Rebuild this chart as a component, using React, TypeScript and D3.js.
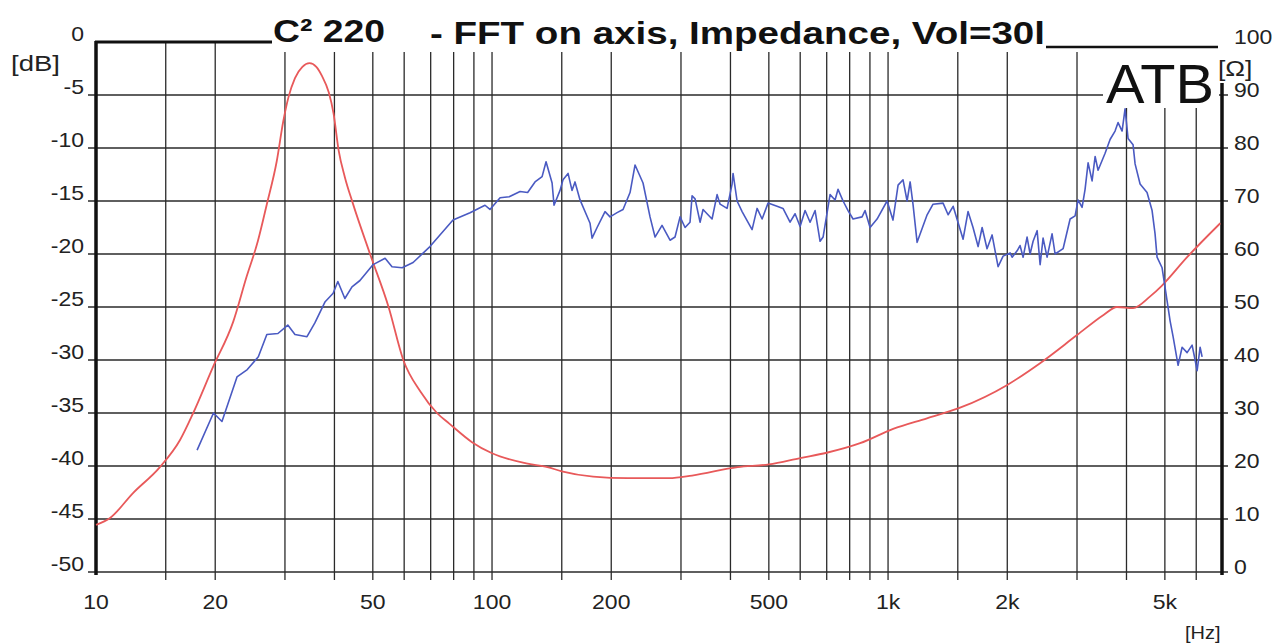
import React from "react";
import * as d3 from "d3";

const W = 1282;
const H = 644;

// Grid frequencies (Hz) for vertical lines
const gridFreqs = [10, 15, 20, 30, 40, 50, 60, 70, 80, 90, 100, 150, 200, 300, 400, 500, 600, 700, 800, 900, 1000, 1500, 2000, 3000, 4000, 5000, 6000];
// Bottom tick labels
const freqTicks = [10, 20, 50, 100, 200, 500, 1000, 2000, 5000];
const freqTickLabels = ["10", "20", "50", "100", "200", "500", "1k", "2k", "5k"];
// Left axis (dB)
const dbTicks = [0, -5, -10, -15, -20, -25, -30, -35, -40, -45, -50];
// Right axis (Ohm)
const ohmTicks = [100, 90, 80, 70, 60, 50, 40, 30, 20, 10, 0];

// Impedance curve [Hz, Ohm]
const impedance: [number, number][] = [
  [10, 8.9], [10.85, 10.2], [12.4, 14.9], [14.5, 19.8], [16.3, 24.9], [17.6, 30], [19.75, 38.7], [22.2, 47.2],
  [24.0, 55.7], [25.6, 62.3], [27.0, 69.4], [28.6, 77.5], [29.7, 85], [30.6, 89.5], [31.8, 93.2], [33.2, 95.3],
  [34.6, 96], [36, 95.3], [37.2, 93.6], [38.7, 90.5], [39.8, 86.5], [41.0, 79.5], [42.5, 74.5], [44.5, 69.6],
  [49.2, 60], [54.8, 50], [59.7, 40], [66, 34], [72.6, 30], [78, 28], [89, 24.5], [100, 22.4], [122, 20.5],
  [138, 19.8], [150, 19], [180, 18], [220, 17.7], [280, 17.7], [320, 18.2], [417, 19.8], [500, 20.3],
  [600, 21.5], [700, 22.5], [850, 24.3], [1030, 27], [1254, 29], [1520, 31], [2000, 35.3], [2420, 39.4],
  [3000, 44.7], [3500, 48.5], [3785, 50], [4155, 49.8], [4590, 52], [4910, 54], [5690, 59.4], [6900, 65.8],
];

// SPL curve [Hz, dB]
const spl: [number, number][] = [
  [18.0, -38.5], [19.8, -35.0], [20.8, -35.8], [22.7, -31.6], [24.1, -30.9], [25.7, -29.7], [27.0, -27.6],
  [28.8, -27.5], [30.5, -26.7], [31.8, -27.6], [34.1, -27.8], [35.7, -26.5], [37.9, -24.5], [39.7, -23.7],
  [40.8, -22.6], [42.5, -24.2], [44.3, -23.1], [46.4, -22.5], [50.1, -21.0], [53.7, -20.4], [55.9, -21.2],
  [59.3, -21.3], [63.2, -20.8], [69.7, -19.3], [79.7, -16.8], [88.0, -16.1], [96.0, -15.4], [98.8, -15.8],
  [104.8, -14.7], [110.5, -14.6], [117.7, -14.1], [123.0, -14.2], [128.4, -13.2], [133.8, -12.7], [136.9, -11.3], [141.8, -13.3], [143.4, -15.4],
  [148.5, -14.0], [151.1, -13.0], [155.6, -12.4], [159.2, -14.0], [162.0, -13.2], [166.8, -14.9], [176.8, -17.1],
  [178.9, -18.5], [184.2, -17.5], [192.9, -16.0], [198.6, -16.5], [206.9, -16.1], [214.2, -15.8], [223.1, -14.2],
  [229.7, -11.6], [240.6, -13.3], [250.6, -16.5], [258.0, -18.4], [268.7, -17.3], [281.5, -18.7], [289.8, -18.4],
  [298.4, -16.5], [307.2, -17.5], [316.2, -17.0], [320.0, -14.5], [325.6, -14.8], [335.2, -17.0], [341.1, -15.8],
  [349.1, -16.2], [359.4, -16.7], [370.1, -14.4], [376.6, -15.3], [392.2, -15.7], [403.8, -13.4], [406.1, -12.4],
  [415.7, -15.0], [428.0, -16.0], [453.6, -17.7], [467.0, -15.7], [480.8, -16.7], [497.7, -15.2], [524.4, -15.5],
  [543.0, -15.7], [565.6, -17.0], [582.4, -16.2], [599.6, -17.4], [617.3, -15.9], [635.5, -17.0], [654.3, -15.9],
  [673.5, -18.8], [685.4, -18.4], [713.8, -14.4], [734.8, -14.9], [747.7, -13.9], [769.9, -15.0], [792.5, -15.9],
  [815.8, -16.7], [859.7, -16.5], [874.8, -15.9], [900.6, -17.5], [938.1, -16.7], [994.3, -15.0], [1029, -16.8],
  [1060, -13.5], [1091, -13.0], [1117, -15.0], [1137, -13.2], [1156, -15.3], [1184, -18.9], [1255, -16.3],
  [1299, -15.3], [1377, -15.2], [1418, -16.3], [1460, -15.5], [1547, -18.6], [1592, -16.0], [1639, -17.5],
  [1688, -19.3], [1728, -17.5], [1778, -19.5], [1831, -18.2], [1896, -21.2], [1952, -20.2], [2033, -19.9],
  [2057, -20.3], [2118, -19.7], [2154, -19.2], [2193, -20.3], [2244, -18.4], [2284, -20.0], [2324, -18.8],
  [2379, -17.8], [2421, -21.0], [2463, -18.5], [2521, -20.3], [2595, -18.1], [2641, -20.0], [2767, -19.5],
  [2882, -16.7], [2967, -16.4], [3019, -14.9], [3090, -15.6], [3144, -13.9], [3200, -11.4], [3275, -13.1],
  [3333, -10.8], [3391, -12.1], [3532, -10.5], [3636, -9.2], [3743, -8.4], [3809, -7.6], [3899, -8.4],
  [3967, -6.3], [4037, -9.1], [4156, -9.7], [4205, -11.5], [4329, -13.4], [4508, -14.2], [4642, -15.9],
  [4723, -18.1], [4778, -20.3], [4920, -21.3], [5064, -24.4], [5154, -26.3], [5245, -27.8], [5400, -30.5],
  [5527, -28.8], [5690, -29.3], [5858, -28.6], [5961, -30.0], [6031, -31.0], [6137, -28.8], [6209, -29.7],
];

const FONT = "'Liberation Sans', Arial, Helvetica, sans-serif";
const SX = 1.15; // horizontal stretch of the scanned lettering

function Label(props: { x: number; y: number; size: number; anchor?: string; children: React.ReactNode; sx?: number }) {
  const { x, y, size, anchor, children, sx } = props;
  return (
    <text
      transform={`translate(${x},${y}) scale(${sx ?? SX},1)`}
      fontSize={size}
      textAnchor={anchor ?? "start"}
      fill="#222"
    >
      {children}
    </text>
  );
}

export default function App() {
  const x = d3.scaleLog().domain([10, 6970]).range([96, 1222]);
  const yDb = d3.scaleLinear().domain([-50, 0]).range([572, 42]);
  const yOhm = d3.scaleLinear().domain([0, 100]).range([572, 42]);

  const redLine = d3
    .line<[number, number]>()
    .x((d) => x(d[0]))
    .y((d) => yOhm(d[1]))
    .curve(d3.curveMonotoneX);
  const blueLine = d3
    .line<[number, number]>()
    .x((d) => x(d[0]))
    .y((d) => yDb(d[1]));

  const gridColor = "#2a2a2a";
  const xL = x(10);
  const xR = x(6970);

  return (
    <svg
      width={W}
      height={H}
      viewBox={`0 0 ${W} ${H}`}
      style={{ position: "absolute", left: 0, top: 0, display: "block", background: "#fff" }}
      fontFamily={FONT}
    >
      <rect x={0} y={0} width={W} height={H} fill="#ffffff" />

      {/* horizontal grid */}
      {dbTicks
        .filter((v) => v !== 0)
        .map((v) => (
          <line key={"h" + v} x1={xL - 8} x2={xR + 6} y1={yDb(v)} y2={yDb(v)} stroke={gridColor} strokeWidth={1.3} />
        ))}

      {/* vertical grid */}
      {gridFreqs
        .filter((f) => f !== 10)
        .map((f) => (
          <line
            key={"v" + f}
            x1={x(f)}
            x2={x(f)}
            y1={f < 30 ? yDb(0) : yDb(0) + 10}
            y2={yDb(-50) + 8}
            stroke={gridColor}
            strokeWidth={1.3}
          />
        ))}

      {/* ATB box */}
      <rect x={1103} y={50} width={116} height={58} fill="#ffffff" />
      <text transform="translate(1106,103) scale(1.03,1)" fontSize={56} fill="#111">ATB</text>

      {/* top lines */}
      <line x1={xL - 1} x2={272} y1={yDb(0)} y2={yDb(0)} stroke="#111" strokeWidth={3} />
      <line x1={1046} x2={1218} y1={yDb(0) + 5} y2={yDb(0) + 5} stroke="#111" strokeWidth={2.5} />

      {/* axes */}
      <line x1={xL} x2={xL} y1={yDb(0) - 1} y2={yDb(-50) + 3} stroke="#111" strokeWidth={3.5} />
      <line x1={xR} x2={xR} y1={83} y2={yDb(-50) + 3} stroke="#111" strokeWidth={3.5} />

      {/* curves */}
      <path d={redLine(impedance) ?? ""} fill="none" stroke="#e8595a" strokeWidth={1.8} />
      <path d={blueLine(spl) ?? ""} fill="none" stroke="#4a5ac2" strokeWidth={1.6} strokeLinejoin="round" />

      {/* title */}
      <text x={273} y={42} fontSize={32} fontWeight="bold" fill="#111" textLength={112} lengthAdjust="spacingAndGlyphs">
        C² 220
      </text>
      <text x={430} y={44} fontSize={31} fontWeight="bold" fill="#111" textLength={615} lengthAdjust="spacingAndGlyphs">
        - FFT on axis, Impedance, Vol=30l
      </text>

      {/* left axis labels */}
      {dbTicks.map((v) => (
        <Label key={"l" + v} x={84} y={yDb(v) - 1} size={20} anchor="end">
          {String(v)}
        </Label>
      ))}
      <Label x={11} y={71} size={22} sx={1.25}>[dB]</Label>

      {/* right axis labels */}
      {ohmTicks.map((v) => (
        <Label key={"r" + v} x={1234} y={yOhm(v) + 2} size={20}>
          {String(v)}
        </Label>
      ))}
      <Label x={1218} y={76} size={22} sx={1.2}>[Ω]</Label>

      {/* bottom labels */}
      {freqTicks.map((f, i) => (
        <Label key={"b" + f} x={x(f)} y={609} size={20} anchor="middle">
          {freqTickLabels[i]}
        </Label>
      ))}
      <Label x={1185} y={639} size={19} sx={1.05}>[Hz]</Label>
    </svg>
  );
}
